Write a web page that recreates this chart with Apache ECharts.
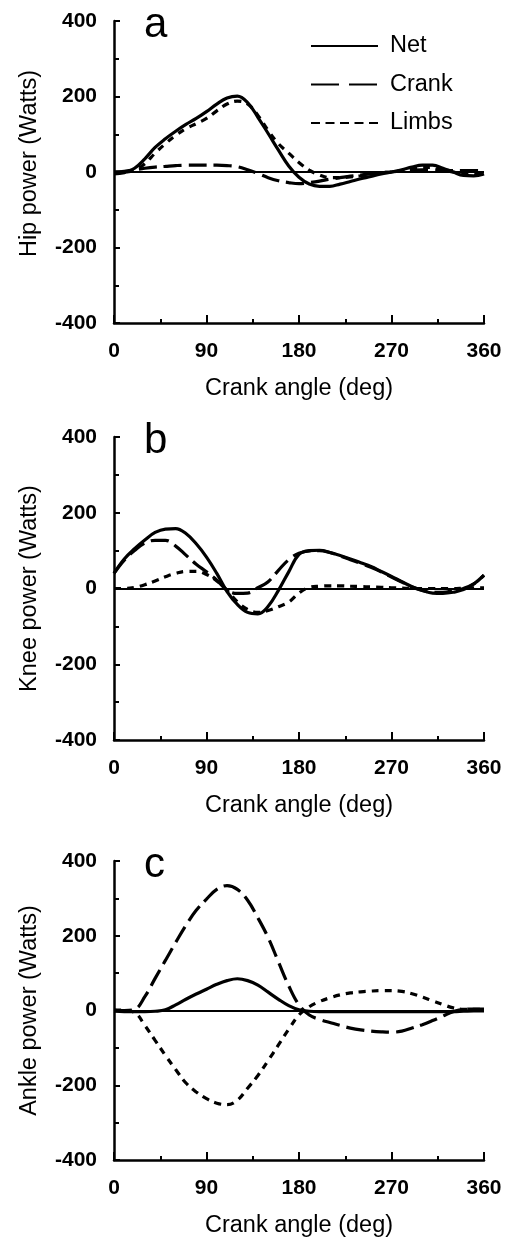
<!DOCTYPE html>
<html>
<head>
<meta charset="utf-8">
<script src="https://cdn.jsdelivr.net/npm/echarts@6/dist/echarts.min.js"></script>
<style>
  html, body { margin: 0; padding: 0; background: #fff; }
  #chart { width: 508px; height: 1239px; }
</style>
</head>
<body>
<div id="chart"></div>
<script>
// crank angle samples (deg)
const angles = [0, 10, 20, 30, 40, 50, 60, 70, 80, 90, 100, 110, 120, 130, 140, 150, 160, 170, 180,
  190, 200, 210, 220, 230, 240, 250, 260, 270, 280, 290, 300, 310, 320, 330, 340, 350, 360]

// a - hip power (Watts)
const hipNet = [-5, -2, 10, 35, 65, 88, 108, 126, 142, 160, 180, 196, 201, 184, 145, 102, 58, 16, -14,
  -32, -38, -38, -32, -25, -18, -12, -5, 0, 6, 13, 18, 18, 10, 0, -9, -10, -5]
const hipCrank = [0, 2, 6, 10, 13, 15, 17, 18, 18, 18, 18, 17, 14, 6, -4, -15, -23, -28, -31,
  -28, -24, -19, -15, -11, -8, -5, -2, 0, 3, 5, 6, 6, 5, 4, 4, 4, 4]
const hipLimbs = [0, 0, 5, 22, 50, 75, 97, 115, 128, 142, 162, 180, 188, 180, 150, 110, 75, 50, 25,
  5, -8, -15, -15, -13, -10, -6, -2, 0, 4, 9, 12, 12, 7, 0, -5, -6, -4]

// b - knee power (Watts)
const kneeNet = [40, 78, 105, 128, 148, 157, 158, 145, 118, 83, 40, -8, -42, -63, -67, -47, -5, 44, 90,
  100, 101, 95, 87, 78, 68, 58, 45, 32, 18, 5, -5, -12, -13, -10, -3, 12, 35]
const kneeCrank = [40, 75, 100, 120, 127, 127, 112, 88, 64, 44, 22, -4, -13, -12, 2, 18, 48, 76, 93,
  99, 100, 95, 86, 76, 66, 56, 44, 30, 17, 4, -5, -10, -10, -6, 0, 12, 35]
const kneeLimbs = [0, 0, 3, 10, 20, 31, 40, 45, 45, 37, 20, -5, -35, -55, -63, -58, -48, -36, -12,
  3, 6, 7, 7, 6, 5, 4, 3, 2, 1, 0, 0, 0, 0, 0, 1, 2, 2]

// c - ankle power (Watts)
const ankleNet = [-2, -3, -3, -3, -2, 2, 15, 30, 44, 57, 70, 80, 85, 80, 68, 49, 30, 13, 2,
  -2, -3, -3, -3, -3, -3, -3, -3, -3, -3, -3, -3, -3, -3, -3, -2, -1, -1]
const ankleCrank = [0, 0, 3, 37, 86, 134, 182, 228, 268, 298, 324, 334, 324, 295, 248, 195, 130, 66, 15,
  -12, -24, -32, -40, -47, -52, -55, -57, -58, -55, -47, -38, -27, -15, -3, 3, 4, 4]
const ankleLimbs = [2, 0, -5, -40, -80, -120, -158, -194, -218, -236, -248, -252, -240, -208, -174, -134, -92, -50, -12,
  10, 24, 34, 42, 47, 50, 52, 53, 53, 51, 45, 36, 26, 16, 7, 3, 3, 3]

const xTicks = [0, 90, 180, 270, 360]
const yTicks = [-400, -200, 0, 200, 400]
const panelLetters = ['a', 'b', 'c']
const yNames = ['Hip power (Watts)', 'Knee power (Watts)', 'Ankle power (Watts)']

const FONT = 'Liberation Sans'
const grids = [
  { left: 114, top: 21, width: 370, height: 302 },
  { left: 114, top: 437, width: 370, height: 303 },
  { left: 114, top: 861, width: 370, height: 302 }
]
const dashes = { Net: 'solid', Crank: [18, 7], Limbs: [7, 6] }

function pairs(vals) {
  return angles.map((a, i) => [a, vals[i]])
}

function lineSeries(name, vals, idx) {
  const s = {
    name: name,
    type: 'line',
    xAxisIndex: idx,
    yAxisIndex: idx,
    data: pairs(vals),
    smooth: 0.4,
    symbol: 'none',
    itemStyle: { color: '#000' },
    lineStyle: { color: '#000', width: 3.2, type: dashes[name] }
  }
  if (name === 'Net') {
    // zero reference line
    s.markLine = {
      silent: true,
      symbol: 'none',
      label: { show: false },
      lineStyle: { color: '#000', width: 2, type: 'solid' },
      data: [{ yAxis: 0 }]
    }
  }
  return s
}

const xAxes = grids.map((g, i) => ({
  type: 'value',
  gridIndex: i,
  min: xTicks[0],
  max: xTicks[xTicks.length - 1],
  interval: xTicks[1] - xTicks[0],
  name: 'Crank angle (deg)',
  nameLocation: 'middle',
  nameGap: 54,
  nameTextStyle: { fontSize: 23.5, color: '#000', fontFamily: FONT },
  axisLine: { onZero: false, lineStyle: { color: '#000', width: 2.5 } },
  axisTick: { inside: true, length: 8, lineStyle: { color: '#000', width: 2 } },
  minorTick: { show: true, splitNumber: 2, length: 4, lineStyle: { color: '#000', width: 2 } },
  splitLine: { show: false },
  axisLabel: { fontSize: 21, fontWeight: 'bold', color: '#000', fontFamily: FONT, margin: 18 }
}))

const yAxes = grids.map((g, i) => ({
  type: 'value',
  gridIndex: i,
  min: yTicks[0],
  max: yTicks[yTicks.length - 1],
  interval: yTicks[1] - yTicks[0],
  name: yNames[i],
  nameLocation: 'middle',
  nameGap: 72,
  // the hip label sits a little above centre in the original
  nameTextStyle: { fontSize: 23.5, color: '#000', fontFamily: FONT, padding: i === 0 ? [0, 0, 0, 17] : 0 },
  axisLine: { onZero: false, lineStyle: { color: '#000', width: 2.5 } },
  axisTick: { inside: true, length: 6, lineStyle: { color: '#000', width: 2 } },
  minorTick: { show: true, splitNumber: 2, length: 5, lineStyle: { color: '#000', width: 2 } },
  splitLine: { show: false },
  axisLabel: { fontSize: 21, fontWeight: 'bold', color: '#000', fontFamily: FONT, margin: 17 }
}))

const titles = panelLetters.map((t, i) => ({
  text: t,
  left: 144,
  top: grids[i].top - 17,
  padding: 0,
  textStyle: { fontSize: 42, fontWeight: 'normal', color: '#000', fontFamily: FONT }
}))

const series = [
  lineSeries('Net', hipNet, 0), lineSeries('Crank', hipCrank, 0), lineSeries('Limbs', hipLimbs, 0),
  lineSeries('Net', kneeNet, 1), lineSeries('Crank', kneeCrank, 1), lineSeries('Limbs', kneeLimbs, 1),
  lineSeries('Net', ankleNet, 2), lineSeries('Crank', ankleCrank, 2), lineSeries('Limbs', ankleLimbs, 2)
]

const chart = echarts.init(document.getElementById('chart'), null, { renderer: 'canvas' })
chart.setOption({
  animation: false,
  backgroundColor: '#fff',
  textStyle: { fontFamily: FONT },
  title: titles,
  legend: {
    orient: 'vertical',
    left: 305,
    top: 29,
    itemWidth: 67,
    itemHeight: 22,
    itemGap: 14.5,
    data: [
      { name: 'Net' },
      { name: 'Crank', lineStyle: { type: [28, 10] } },
      { name: 'Limbs', lineStyle: { type: [9, 5.5] } }
    ],
    // hide the marker dot, keep only the line sample
    itemStyle: { color: 'rgba(0,0,0,0)', borderColor: 'rgba(0,0,0,0)', borderWidth: 0 },
    textStyle: { fontSize: 23.5, color: '#000', fontFamily: FONT, padding: [0, 0, 0, 7] }
  },
  grid: grids,
  xAxis: xAxes,
  yAxis: yAxes,
  series: series
})
</script>
</body>
</html>
